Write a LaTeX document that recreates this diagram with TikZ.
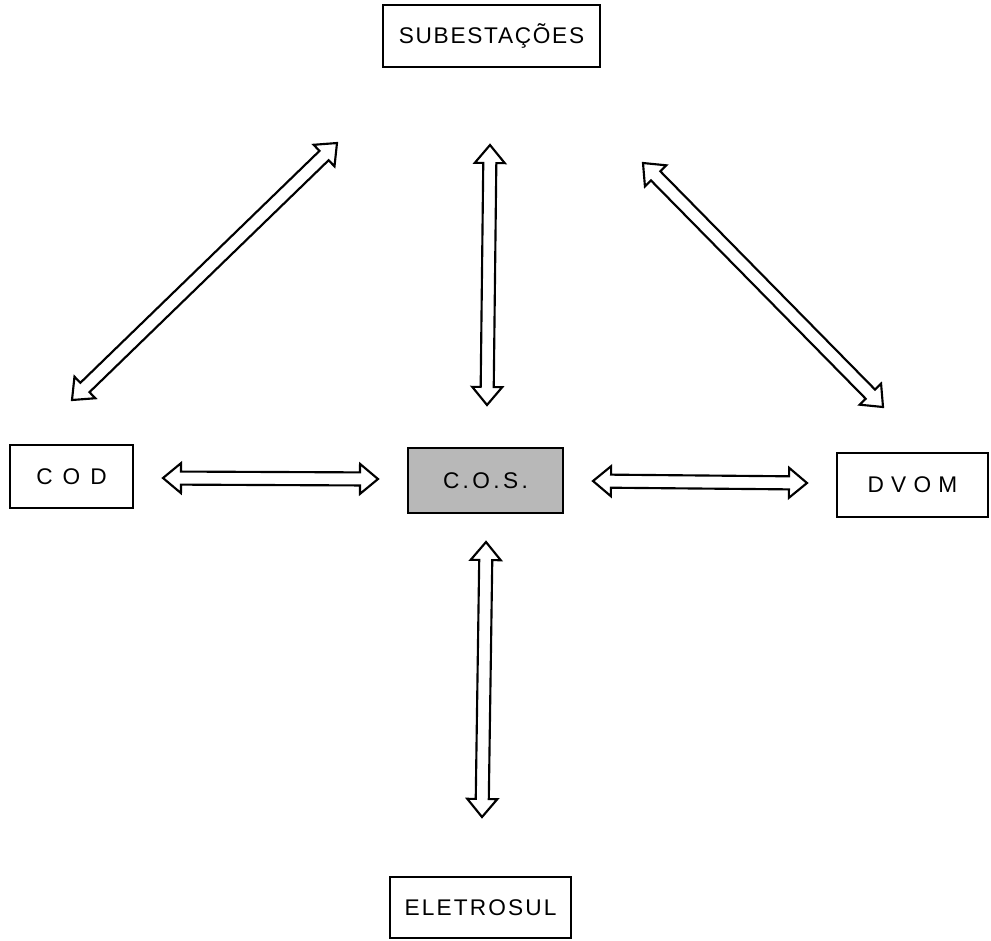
\documentclass[tikz,border=0pt]{standalone}
\usepackage{fontspec}
\setmainfont{Liberation Sans}
\tikzset{
  box/.style={draw, line width=1.5pt, inner sep=0pt, font=\fontsize{17}{19}\selectfont},
  arr/.style={draw, line width=1.6pt, line join=miter, fill=white},
}
\newcommand\ls[2]{{\addfontfeature{LetterSpace=#1}#2}}
\newcommand\dblarrow[2]{%
  \pgfpointdiff{\pgfpointanchor{#1}{center}}{\pgfpointanchor{#2}{center}}%
  \pgfgetlastxy\dax\day
  \pgfmathsetmacro\arrang{atan2(\day,\dax)}%
  \pgfmathsetmacro\arrlen{veclen(\dax,\day)}%
  \begin{scope}[shift={(#1)}, rotate=\arrang]
    \draw[arr] (0pt,0pt) -- (13.5pt,11.25pt) -- (13.5pt,4.9pt)
      -- ({\arrlen pt-13.5pt},4.9pt) -- ({\arrlen pt-13.5pt},11.25pt)
      -- ({\arrlen pt},0pt) -- ({\arrlen pt-13.5pt},-11.25pt)
      -- ({\arrlen pt-13.5pt},-4.9pt) -- (13.5pt,-4.9pt)
      -- (13.5pt,-11.25pt) -- cycle;
  \end{scope}}
\begin{document}
\begin{tikzpicture}[x=0.75pt, y=-0.75pt]
\useasboundingbox (0,0) rectangle (991,940);
\node[box, minimum width=162.75pt, minimum height=46.5pt] (sub) at (491.5,36) {\ls{7.5}{SUBESTAÇÕES}};
\node[box, fill=black!28, minimum width=116.25pt, minimum height=48.75pt] (cos) at (485.5,480.5) {\ls{15}{C.O.S.}};
\node[box, minimum width=92.25pt, minimum height=47.25pt] (cod) at (71.5,476.5) {\ls{44}{COD}};
\node[box, minimum width=113.25pt, minimum height=48pt] (dvom) at (912.5,485) {\ls{32}{DVOM}};
\node[box, minimum width=135.75pt, minimum height=45.75pt] (elet) at (480.5,907.5) {\ls{9.4}{ELETROSUL}};
% arrow end points
\coordinate (d1a) at (72,400);  \coordinate (d1b) at (337,143);
\coordinate (v1a) at (490,145); \coordinate (v1b) at (487,405);
\coordinate (d2a) at (643,163); \coordinate (d2b) at (883,407);
\coordinate (h1a) at (163,478); \coordinate (h1b) at (378,479);
\coordinate (h2a) at (593,481); \coordinate (h2b) at (807,483);
\coordinate (v2a) at (486,542); \coordinate (v2b) at (482,817);
\dblarrow{d1a}{d1b}
\dblarrow{v1a}{v1b}
\dblarrow{d2a}{d2b}
\dblarrow{h1a}{h1b}
\dblarrow{h2a}{h2b}
\dblarrow{v2a}{v2b}
\end{tikzpicture}
\end{document}
